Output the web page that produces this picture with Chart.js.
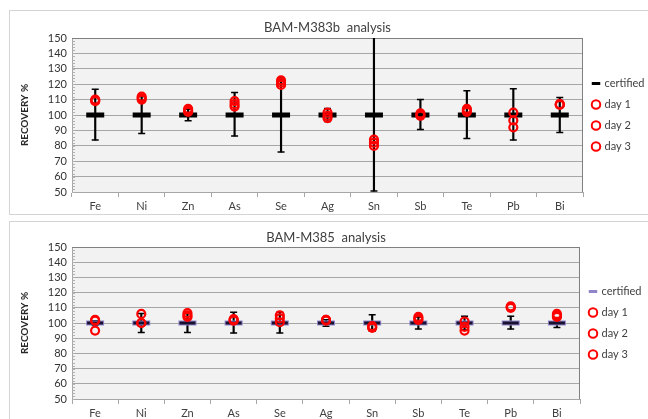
<!DOCTYPE html>
<html lang="en">
<head>
  <meta charset="UTF-8" />
  <title>BAM recovery</title>
  <script src="https://cdn.jsdelivr.net/npm/chart.js"></script>
  <style>
    body {
      margin: 0;
      width: 648px;
      height: 419px;
      overflow: hidden;
      background: #fff;
      position: relative;
    }
    .box {
      position: absolute;
      left: 9px;
      width: 640px;
      border: 1px solid #d4d4d4;
      background: #fff;
    }
    #box1 { top: 10px; height: 203px; }
    #box2 { top: 221px; height: 205px; }
    canvas { display: block; }
  </style>
</head>
<body>
  <div class="box" id="box1"><canvas id="chart1" width="640" height="203"></canvas></div>
  <div class="box" id="box2"><canvas id="chart2" width="640" height="205"></canvas></div>

  <script>
    // elements on the x axis
    const elements = ['Fe', 'Ni', 'Zn', 'As', 'Se', 'Ag', 'Sn', 'Sb', 'Te', 'Pb', 'Bi'];
    const certified = [100, 100, 100, 100, 100, 100, 100, 100, 100, 100, 100];

    // BAM-M383b
    const m383bDay1 = [110, 112, 104, 109, 122.5, 101.5, 84, 101, 104, 101.5, 107];
    const m383bDay2 = [109, 111, 103, 107, 121, 99.5, 82, 100, 103, 96.5, 106.5];
    const m383bDay3 = [109.5, 110, 102, 105.5, 119.5, 98, 80, 99.5, 102, 92, 107];
    const m383bErrLow = [83.7, 88, 96.3, 86.3, 76, 95.7, 50.6, 90.6, 84.8, 83.7, 88.7];
    const m383bErrHigh = [116.7, 112, 103.7, 114.6, 124, 104.3, 160, 110, 115.8, 117, 111.3];

    // BAM-M385
    const m385Day1 = [102, 106, 106.5, 102.5, 105, 102, 97, 104, 101, 110.5, 106];
    const m385Day2 = [95, 100, 104, 101.5, 100.5, 101.5, 98, 102, 97.5, 110, 104];
    const m385Day3 = [101.5, 100, 105, 102, 103, 102, 97, 103, 95, 111, 105];
    const m385ErrLow = [98.5, 93.7, 93.7, 93.5, 93.5, 97.8, 94.5, 96, 95.5, 96, 97];
    const m385ErrHigh = [101.5, 106.3, 106.3, 107, 107, 102.2, 105.5, 104, 104.5, 104.5, 103];

    const yMin = 50, yMax = 150, yStep = 10;

    Chart.defaults.font.family = 'Lato, "Liberation Sans", sans-serif';
    Chart.defaults.color = '#404040';
    Chart.defaults.animation = false;

    // plot background, borders, minor ticks and the title centred on the plot
    const plotFrame = {
      id: 'plotFrame',
      beforeDraw(chart) {
        const ctx = chart.ctx, a = chart.chartArea;
        ctx.save();
        ctx.fillStyle = '#f2f2f2';
        ctx.fillRect(a.left, a.top, a.right - a.left, a.bottom - a.top);
        ctx.restore();
      },
      beforeDatasetsDraw(chart) {
        const ctx = chart.ctx, a = chart.chartArea, y = chart.scales.y;
        ctx.save();
        ctx.strokeStyle = '#b0b0b0';
        ctx.lineWidth = 1;
        ctx.beginPath();
        for (let v = y.min; v <= y.max; v += 2) {
          const py = Math.round(y.getPixelForValue(v)) + 0.5;
          ctx.moveTo(a.left, py);
          ctx.lineTo(a.left + 3, py);
        }
        ctx.stroke();
        ctx.strokeStyle = '#808080';
        ctx.beginPath();
        ctx.moveTo(a.right - 0.5, a.top);
        ctx.lineTo(a.right - 0.5, a.bottom);
        ctx.moveTo(a.left, a.top + 0.5);
        ctx.lineTo(a.right, a.top + 0.5);
        ctx.stroke();
        ctx.restore();
      },
      afterDraw(chart, args, opts) {
        const ctx = chart.ctx, a = chart.chartArea;
        ctx.save();
        ctx.font = '13px Lato, "Liberation Sans", sans-serif';
        ctx.fillStyle = '#404040';
        ctx.textAlign = 'center';
        ctx.textBaseline = 'middle';
        ctx.fillText(opts.text, (a.left + a.right) / 2, opts.y);
        ctx.restore();
      }
    };

    function makeChart(id, titleText, titleY, padTop, xHeight, legendWidth, day1, day2, day3, errLow, errHigh, certColor, certCore) {
      const dot = (label, data) => ({
        type: 'line', label, data, showLine: false,
        pointStyle: 'circle', pointRadius: 4, pointHoverRadius: 4, pointBorderWidth: 2.2,
        borderColor: '#ff0000', backgroundColor: 'rgba(255,255,255,0)', order: 0
      });
      const cap = data => ({
        type: 'line', label: 'cap', data, showLine: false,
        pointStyle: 'line', pointRadius: 3.5, pointBorderWidth: 1.5,
        borderColor: '#000', backgroundColor: '#000', order: 3
      });

      return new Chart(document.getElementById(id), {
        type: 'bar',
        data: {
          labels: elements,
          datasets: [
            {
              type: 'line', label: 'certified', data: certified, showLine: false,
              pointStyle: 'line', pointRadius: 9, pointBorderWidth: 5,
              borderColor: certColor, backgroundColor: certColor, order: 2
            },
            dot('day 1', day1),
            dot('day 2', day2),
            dot('day 3', day3),
            {
              type: 'line', label: 'core', data: certified, showLine: false,
              pointStyle: 'line', pointRadius: 8, pointBorderWidth: 3,
              borderColor: certCore, backgroundColor: certCore, order: 1
            },
            {
              type: 'bar', label: 'range', data: errLow.map((v, i) => [v, errHigh[i]]),
              backgroundColor: '#000', barThickness: 1.5, order: 4
            },
            cap(errLow),
            cap(errHigh)
          ]
        },
        options: {
          responsive: false,
          events: [],
          layout: { padding: { top: padTop, left: 0, right: 0, bottom: 0 } },
          scales: {
            x: {
              grid: { offset: true, drawOnChartArea: false, tickLength: 5, color: '#a6a6a6' },
              border: { color: '#a6a6a6' },
              ticks: { font: { size: 11 }, color: '#404040', padding: 3 },
              afterFit: s => { s.height = xHeight; }
            },
            y: {
              min: yMin, max: yMax,
              ticks: { stepSize: yStep, autoSkip: false, font: { size: 11 }, color: '#333', padding: 5 },
              grid: { color: '#a6a6a6', drawTicks: false },
              border: { color: '#a6a6a6' },
              title: {
                display: true, text: 'RECOVERY %', color: '#262626',
                font: { size: 10, weight: 'bold' }, padding: { top: 9, bottom: 0 }
              },
              afterFit: s => { s.width = 62; }
            }
          },
          plugins: {
            title: { display: false },
            tooltip: { enabled: false },
            plotFrame: { text: titleText, y: titleY },
            legend: {
              position: 'right',
              align: 'center',
              fullSize: false,
              maxWidth: legendWidth,
              labels: {
                usePointStyle: true, boxWidth: 6, boxHeight: 6, padding: 10,
                font: { size: 11 }, color: '#404040',
                filter: item => item.datasetIndex < 4,
                sort: (a, b) => a.datasetIndex - b.datasetIndex,
                generateLabels: chart => {
                  const items = Chart.defaults.plugins.legend.labels.generateLabels(chart);
                  items.forEach(it => {
                    if (it.datasetIndex === 0) it.lineWidth = 3;
                    else it.lineWidth = 2;
                  });
                  return items;
                }
              }
            }
          }
        },
        plugins: [plotFrame]
      });
    }

    makeChart('chart1', 'BAM-M383b  analysis', 17, 27, 22, 67,
      m383bDay1, m383bDay2, m383bDay3, m383bErrLow, m383bErrHigh, '#000000', '#000000');
    makeChart('chart2', 'BAM-M385  analysis', 16, 25, 28, 70,
      m385Day1, m385Day2, m385Day3, m385ErrLow, m385ErrHigh, '#8f86c9', '#1a1030');
  </script>
</body>
</html>
